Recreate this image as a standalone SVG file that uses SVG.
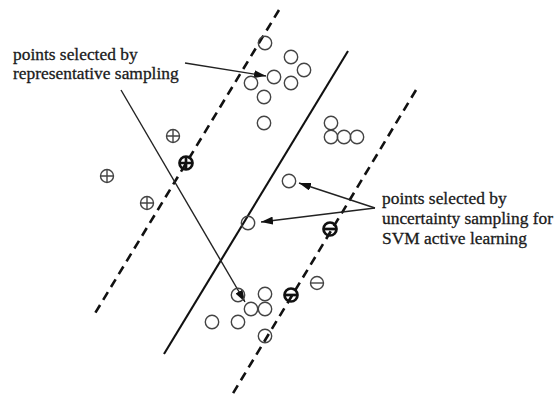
<svg xmlns="http://www.w3.org/2000/svg" width="555" height="396" viewBox="0 0 555 396">
<defs>
<style>
.pt{fill:none;stroke:#444;stroke-width:1.4}
.bold{fill:none;stroke:#111;stroke-width:2.7}
.dash{fill:none;stroke:#111;stroke-width:2.6;stroke-dasharray:9 6}
.solid{fill:none;stroke:#111;stroke-width:2.1}
.arr{fill:none;stroke:#222;stroke-width:1.4;marker-end:url(#ah)}
.lbl{font-family:"Liberation Serif","Times New Roman",serif;font-size:17.4px;fill:#1a1a1a;stroke:#1a1a1a;stroke-width:0.3}
</style>
<marker id="ah" viewBox="0 0 12 8" refX="12" refY="4" markerWidth="12" markerHeight="8" markerUnits="userSpaceOnUse" orient="auto">
<path d="M0,0 L12,4 L0,8 Z" fill="#111"/>
</marker>
<g id="o"><circle r="6.7" class="pt"/></g>
<g id="plus"><circle r="6.5" class="pt"/><path d="M-6.5,0H6.5M0,-6.5V6.5" class="pt"/></g>
<g id="minus"><circle r="6.5" class="pt"/><path d="M-6.5,0H6.5" class="pt"/></g>
<g id="plusB"><circle r="6.5" class="bold"/><path d="M-6.5,0H6.5M0,-6.5V6.5" class="bold"/></g>
<g id="minusB"><circle r="6.5" class="bold"/><path d="M-6.5,0H6.5" class="bold"/></g>
</defs>
<rect width="555" height="396" fill="#fff"/>
<g id="connectors">
<line class="dash" x1="279" y1="10" x2="94" y2="315"/>
<line class="solid" x1="348" y1="51" x2="164" y2="354"/>
<line class="dash" x1="416" y1="90" x2="232" y2="395"/>
<line class="arr" x1="185" y1="63" x2="266" y2="76"/>
<line class="arr" x1="121" y1="90" x2="245" y2="302"/>
<line class="arr" x1="375" y1="208" x2="299" y2="183"/>
<line class="arr" x1="375" y1="208" x2="261" y2="222"/>
</g>
<g id="cluster-top">
<use href="#o" x="265" y="43"/>
<use href="#o" x="291" y="57"/>
<use href="#o" x="304" y="70"/>
<use href="#o" x="274" y="77"/>
<use href="#o" x="291" y="83"/>
<use href="#o" x="251" y="83"/>
<use href="#o" x="264" y="97"/>
<use href="#o" x="264" y="123"/>
</g>
<g id="cluster-right">
<use href="#o" x="331" y="123"/>
<use href="#o" x="331" y="137"/>
<use href="#o" x="344" y="137"/>
<use href="#o" x="357" y="137"/>
</g>
<g id="uncertain-points">
<use href="#o" x="289" y="181"/>
<use href="#o" x="248" y="223"/>
</g>
<g id="cluster-bottom">
<use href="#o" x="238" y="295"/>
<use href="#o" x="265" y="294"/>
<use href="#o" x="251" y="309"/>
<use href="#o" x="265" y="309"/>
<use href="#o" x="212" y="322"/>
<use href="#o" x="238" y="322"/>
<use href="#o" x="265" y="336"/>
</g>
<g id="positives">
<use href="#plus" x="173" y="136"/>
<use href="#plusB" x="186" y="163"/>
<use href="#plus" x="107" y="176"/>
<use href="#plus" x="147" y="203"/>
</g>
<g id="negatives">
<use href="#minusB" x="330" y="229"/>
<use href="#minus" x="317" y="283"/>
<use href="#minusB" x="291" y="295"/>
</g>
<g id="label-representative">
<text class="lbl" x="13" y="59.5">points selected by</text>
<text class="lbl" x="13" y="78.5">representative sampling</text>
</g>
<g id="label-uncertainty">
<text class="lbl" x="382" y="204">points selected by</text>
<text class="lbl" x="382" y="224">uncertainty sampling for</text>
<text class="lbl" x="382" y="244">SVM active learning</text>
</g>
</svg>
